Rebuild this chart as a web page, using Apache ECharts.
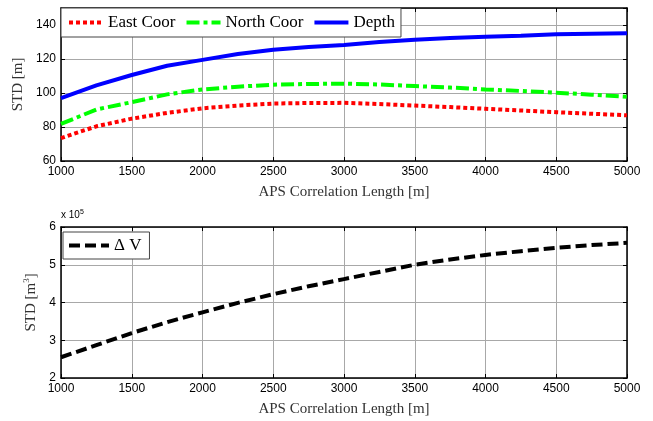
<!DOCTYPE html>
<html><head><meta charset="utf-8">
<script src="https://cdn.jsdelivr.net/npm/echarts@6/dist/echarts.min.js"></script>
<style>html,body{margin:0;padding:0;background:#fff}#c{width:653px;height:421px}</style>
</head><body><div id="c"></div>
<script>
// x positions (APS correlation length, m)
const xLen = [1000,1250,1500,1750,2000,2250,2500,2750,3000,3250,3500,3750,4000,4250,4500,4750,5000];
// top plot: STD [m]
const eastCoor  = [73.5,80.4,84.9,88.3,91.0,92.6,93.8,94.1,94.2,93.5,92.6,91.7,90.7,89.7,88.7,87.8,86.9];
const northCoor = [81.8,90.3,94.6,99.2,102.1,103.7,104.9,105.3,105.5,105.0,104.1,103.2,102.1,101.2,100.2,99.0,97.8];
const depth     = [97.0,104.5,110.6,116.0,119.5,122.9,125.4,127.0,128.3,130.0,131.3,132.3,133.1,133.7,134.5,134.8,135.1];
// bottom plot: STD of volume change, units of 1e5 m^3
const deltaV    = [2.55,2.87,3.19,3.48,3.74,3.99,4.22,4.43,4.62,4.81,5.00,5.14,5.26,5.36,5.45,5.52,5.58];
const seriesNames = ['East Coor','North Coor','Depth','\u0394 V'];

const pair = a => xLen.map((x,i)=>[x,a[i]]);
const serif = 'Liberation Serif';
const sans = 'Liberation Sans';
const gridLine = {show:true, lineStyle:{color:'#a8a8a8', width:1}};
const plain = v => String(v);

function xAx(gi, main){
  return {type:'value', gridIndex:gi, min:1000, max:5000, interval:500,
    position: main?'bottom':'top',
    axisLine:{show:true, onZero:false, lineStyle:{color:'#000', width:1.5}},
    axisTick:{show:true, inside:true, length:4, lineStyle:{color:'#000'}},
    axisLabel:{show:main, color:'#000', fontFamily:sans, fontSize:12, margin:5, formatter:plain},
    splitLine: main?gridLine:{show:false},
    name: main?'APS Correlation Length [m]':'', nameLocation:'middle', nameGap:24,
    nameTextStyle:{fontFamily:serif, fontSize:15, color:'#333'}};
}
function yAx(gi, main, min, max, interval, name, nameGap){
  return {type:'value', gridIndex:gi, min:min, max:max, interval:interval,
    position: main?'left':'right',
    axisLine:{show:true, onZero:false, lineStyle:{color:'#000', width:1.5}},
    axisTick:{show:true, inside:true, length:4, lineStyle:{color:'#000'}},
    axisLabel:{show:main, color:'#000', fontFamily:sans, fontSize:12, margin:5, showMaxLabel: gi===1, formatter:plain},
    splitLine: main?gridLine:{show:false},
    name: main?name:'', nameLocation:'middle', nameGap:nameGap,
    nameTextStyle:{fontFamily:serif, fontSize:15, color:'#333',
      rich:{sup:{fontFamily:serif, fontSize:9, color:'#333', verticalAlign:'top', padding:[0,0,8,0]}}}};
}

const chart = echarts.init(document.getElementById('c'));
chart.setOption({
  animation:false,
  grid:[{left:61, right:26, top:8, height:153},
        {left:61, right:26, top:227, height:151}],
  xAxis:[xAx(0,true), xAx(0,false), xAx(1,true), xAx(1,false)],
  yAxis:[yAx(0,true,60,150,20,'STD [m]',32), yAx(0,false,60,150,20,'',0),
         yAx(1,true,2,6,1,'STD [m{sup|3}]',18), yAx(1,false,2,6,1,'',0)],
  legend:[
    {data:seriesNames.slice(0,3), left:61, top:8, orient:'horizontal',
     itemWidth:34, itemHeight:17, itemGap:9, padding:[6,6,6,6],
     borderColor:'#444', borderWidth:1, backgroundColor:'#fff',
     itemStyle:{opacity:0}, lineStyle:{width:4},
     textStyle:{fontFamily:serif, fontSize:17, color:'#000'}},
    {data:[seriesNames[3]], left:63, top:232, orient:'horizontal',
     itemWidth:40, itemHeight:17, padding:[5,8,5,4],
     borderColor:'#444', borderWidth:1, backgroundColor:'#fff',
     itemStyle:{opacity:0}, lineStyle:{width:4},
     textStyle:{fontFamily:serif, fontSize:17, color:'#000'}}
  ],
  graphic:[{type:'text', left:61, top:209,
    style:{text:'x 10{s|5}', fontFamily:sans, fontSize:10, fill:'#000',
      rich:{s:{fontSize:7, verticalAlign:'top', padding:[0,0,6,0]}}}}],
  series:[
    {name:seriesNames[0], type:'line', xAxisIndex:0, yAxisIndex:0, data:pair(eastCoor),
     symbol:'none', lineStyle:{color:'#ff0000', width:4, type:[4,3], cap:'butt'}, itemStyle:{color:'#ff0000'}},
    {name:seriesNames[1], type:'line', xAxisIndex:0, yAxisIndex:0, data:pair(northCoor),
     symbol:'none', lineStyle:{color:'#00ff00', width:4, type:[13,4,4,4], cap:'butt'}, itemStyle:{color:'#00ff00'}},
    {name:seriesNames[2], type:'line', xAxisIndex:0, yAxisIndex:0, data:pair(depth),
     symbol:'none', lineStyle:{color:'#0000ff', width:4}, itemStyle:{color:'#0000ff'}},
    {name:seriesNames[3], type:'line', xAxisIndex:2, yAxisIndex:2, data:pair(deltaV),
     symbol:'none', lineStyle:{color:'#000', width:4, type:[11,5], cap:'butt'}, itemStyle:{color:'#000'}}
  ]
});
</script></body></html>
